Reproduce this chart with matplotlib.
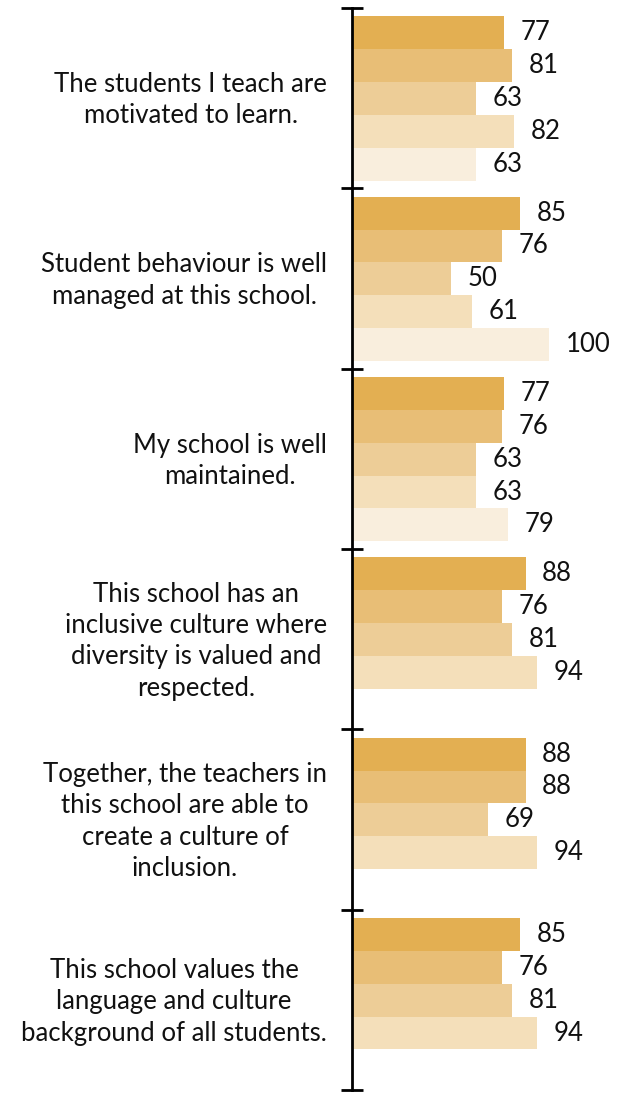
import matplotlib
matplotlib.use("Agg")
import matplotlib.pyplot as plt
import numpy as np

plt.rcParams["font.family"] = ["Lato", "DejaVu Sans"]

preguntas = [
    "The students I teach are\nmotivated to learn.",
    "Student behaviour is well\nmanaged at this school.",
    "My school is well\nmaintained.",
    "This school has an\ninclusive culture where\ndiversity is valued and\nrespected.",
    "Together, the teachers in\nthis school are able to\ncreate a culture of\ninclusion.",
    "This school values the\nlanguage and culture\nbackground of all students.",
]

# porcentaje de acuerdo por pregunta, una lista por serie (None = sin dato)
serie_1 = [77, 85, 77, 88, 88, 85]
serie_2 = [81, 76, 76, 76, 88, 76]
serie_3 = [63, 50, 63, 81, 69, 81]
serie_4 = [82, 61, 63, 94, 94, 94]
serie_5 = [63, 100, 79, None, None, None]

series = [serie_1, serie_2, serie_3, serie_4, serie_5]
colores = ["#E3AF52", "#E8BE76", "#EDCD97", "#F4DFBA", "#F9EEDD"]

fig = plt.figure(figsize=(6.3, 10.93), dpi=100)
ax = fig.add_axes([352 / 630, 3 / 1093, 1 - 352 / 630, 1082 / 1093])

alto = 0.1823
margen = 0.046

for j, (valores, color) in enumerate(zip(series, colores)):
    for i, v in enumerate(valores):
        if v is None:
            continue
        y = i + margen + (j + 0.5) * alto
        ax.barh(y, v, height=alto, color=color, edgecolor="none")
        ax.annotate(str(v), (v, y), xytext=(12, 0), textcoords="offset points",
                    va="center", ha="left", fontsize=18.5, color="#111111")

ax.set_xlim(0, 141)
ax.set_ylim(6, 0)

# ticks en los límites de cada pregunta, etiquetas en el centro
ax.set_yticks(np.arange(0, 7))
ax.set_yticklabels([])
ax.tick_params(axis="y", which="major", direction="inout", length=16, width=2)
ax.set_yticks(np.arange(6) + 0.48, minor=True)
ax.set_yticklabels(preguntas, minor=True, fontsize=18.5, multialignment="center",
                   linespacing=1.32, color="#111111")
ax.tick_params(axis="y", which="minor", length=0, pad=18)

ax.set_xticks([])
for lado in ["top", "right", "bottom"]:
    ax.spines[lado].set_visible(False)
ax.spines["left"].set_linewidth(2)

fig.savefig("out.png", dpi=100)
